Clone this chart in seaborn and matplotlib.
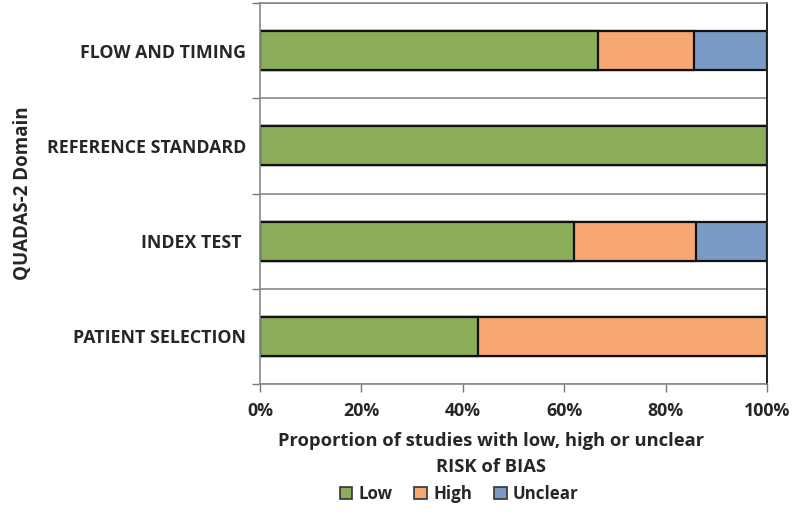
import matplotlib
matplotlib.use("Agg")
import matplotlib.pyplot as plt
import seaborn as sns
import pandas as pd
import numpy as np
from matplotlib.patches import Patch
from matplotlib.ticker import FixedLocator, PercentFormatter

domains = ["FLOW AND TIMING", "REFERENCE STANDARD", "INDEX TEST ", "PATIENT SELECTION"]
low = [66.7, 100.0, 62.0, 42.9]
high = [19.0, 0.0, 24.0, 57.1]
unclear = [14.3, 0.0, 14.0, 0.0]
series = ["Low", "High", "Unclear"]
colors = {"Low": "#8BAC58", "High": "#F7A872", "Unclear": "#7B9BC7"}

sns.set_theme(style="white")
plt.rcParams["font.family"] = ["Open Sans", "DejaVu Sans"]
plt.rcParams["font.weight"] = "bold"

df = pd.DataFrame({"domain": domains, "Low": low, "High": high, "Unclear": unclear})
df["c_low"] = df["Low"]
df["c_high"] = df["Low"] + df["High"]
df["c_unc"] = df["Low"] + df["High"] + df["Unclear"]

W, H = 792, 520
fig = plt.figure(figsize=(W / 100, H / 100), dpi=100)
ax = fig.add_axes([260 / W, 1 - 384 / H, (767 - 260) / W, (384 - 3) / H])

for col, name in [("c_unc", "Unclear"), ("c_high", "High"), ("c_low", "Low")]:
    sns.barplot(data=df, x=col, y="domain", order=domains, orient="h",
                color=colors[name], edgecolor="#111111", linewidth=1.6,
                width=0.41, saturation=1, ax=ax)

ax.set_xlim(0, 100)
ax.set_ylim(len(domains) - 0.5, -0.5)
ax.xaxis.set_major_locator(FixedLocator([0, 20, 40, 60, 80, 100]))
ax.xaxis.set_major_formatter(PercentFormatter(decimals=0))
ax.set_yticks(range(len(domains)))
ax.set_yticklabels(domains)
ax.set_yticks(np.arange(-0.5, len(domains), 1.0), minor=True)
ax.tick_params(axis="y", which="major", length=0, pad=10, labelsize=12.8)
ax.tick_params(axis="y", which="minor", length=6, width=1, color="#777777", direction="out")
ax.tick_params(axis="x", which="major", length=6, width=1, color="#777777",
               direction="out", pad=7, labelsize=12.8)
ax.tick_params(left=True, bottom=True, which="both")
for b in np.arange(-0.5, len(domains), 1.0):
    ax.axhline(b, color="#888888", linewidth=1.2, zorder=0)

for s in ["left", "bottom", "top"]:
    ax.spines[s].set_color("#888888")
    ax.spines[s].set_linewidth(1.2)
ax.spines["right"].set_color("#222222")
ax.spines["right"].set_linewidth(1.4)

ax.set_ylabel("QUADAS-2 Domain", fontsize=13.5, fontweight="bold", labelpad=10)
ax.set_xlabel("Proportion of studies with low, high or unclear\nRISK of BIAS",
              fontsize=13.2, fontweight="bold", linespacing=1.55)
ax.xaxis.set_label_coords((491 - 260) / (767 - 260), (384 - 432) / (384 - 3))
for lab in ax.get_xticklabels() + ax.get_yticklabels():
    lab.set_fontweight("bold")

handles = [Patch(facecolor=colors[s], edgecolor="#333333", linewidth=1.2, label=s) for s in series]
fig.legend(handles=handles, loc="center", bbox_to_anchor=(459 / W, 1 - 494 / H),
           ncol=3, frameon=False, handlelength=0.75, handleheight=0.75,
           handletextpad=0.35, columnspacing=1.3, prop={"weight": "bold", "size": 12.2})

fig.savefig("out.png", dpi=100)
